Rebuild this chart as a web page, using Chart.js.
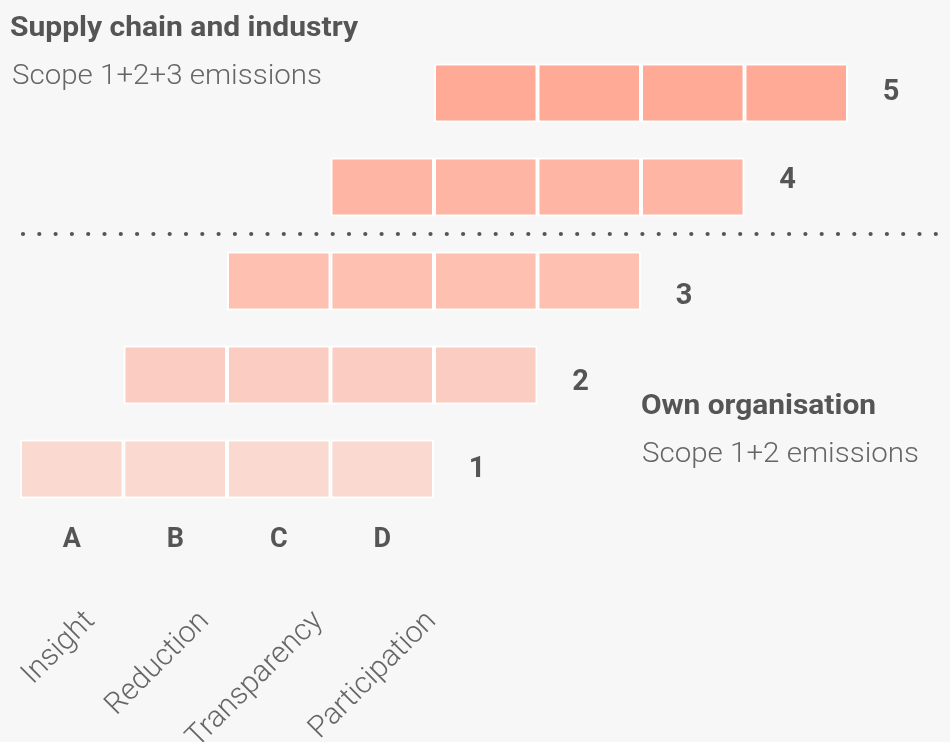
<!DOCTYPE html>
<html>
<head>
<meta charset="utf-8">
<script src="https://cdn.jsdelivr.net/npm/chart.js@4.4.1/dist/chart.umd.min.js"></script>
<style>
  html, body { margin: 0; padding: 0; background: #f7f7f7; }
  #wrap { width: 950px; height: 742px; position: relative; }
</style>
</head>
<body>
<div id="wrap"><canvas id="c"></canvas></div>
<script>
// ---- data ----
const levels = ['5', '4', '3', '2', '1'];               // top to bottom
const colLetters = ['A', 'B', 'C', 'D'];
const colNames = ['Insight', 'Reduction', 'Transparency', 'Participation'];
const segment1 = [[4, 5], [3, 4], [2, 3], [1, 2], [0, 1]];
const segment2 = [[5, 6], [4, 5], [3, 4], [2, 3], [1, 2]];
const segment3 = [[6, 7], [5, 6], [4, 5], [3, 4], [2, 3]];
const segment4 = [[7, 8], [6, 7], [5, 6], [4, 5], [3, 4]];
const levelColors = ['#ffaa96', '#feb5a3', '#fdc0b1', '#fbcdc2', '#f9d9d0'];
const groupTitles = ['Supply chain and industry', 'Own organisation'];
const groupSubtitles = ['Scope 1+2+3 emissions', 'Scope 1+2 emissions'];

const FONT = 'Roboto, "Open Sans", "DejaVu Sans", sans-serif';
const DARK = '#555555';
const LIGHT = '#666666';

function fitText(ctx, text, x, y, width, font, color) {
  ctx.save();
  ctx.font = font;
  ctx.fillStyle = color;
  ctx.textAlign = 'left';
  ctx.textBaseline = 'alphabetic';
  const w = ctx.measureText(text).width;
  const s = width / w;
  ctx.translate(x, y);
  ctx.scale(s, 1);
  ctx.fillText(text, 0, 0);
  ctx.restore();
}

const decor = {
  id: 'decor',
  afterDraw(chart) {
    const ctx = chart.ctx;
    const xs = chart.scales.x;
    const ys = chart.scales.y;

    // dotted separator between level 4 and level 3
    const ySep = (ys.getPixelForValue(1) + ys.getPixelForValue(2)) / 2;
    ctx.save();
    ctx.strokeStyle = DARK;
    ctx.lineWidth = 4.2;
    ctx.lineCap = 'round';
    ctx.setLineDash([0, 16.3]);
    ctx.beginPath();
    ctx.moveTo(23, ySep);
    ctx.lineTo(945, ySep);
    ctx.stroke();
    ctx.restore();

    // level numbers at the end of each bar
    const dy = [0, -6, 16, 8, 1];
    ctx.save();
    ctx.font = 'bold 29px ' + FONT;
    ctx.fillStyle = DARK;
    ctx.textAlign = 'center';
    ctx.textBaseline = 'middle';
    levels.forEach((lv, i) => {
      const xEnd = xs.getPixelForValue(segment4[i][1]);
      ctx.fillText(lv, xEnd + 43, ys.getPixelForValue(i) + dy[i]);
    });
    ctx.restore();

    // rotated column names
    const dx = [24, 35, 45, 55];
    ctx.save();
    ctx.font = '300 30px ' + FONT;
    ctx.fillStyle = LIGHT;
    ctx.textAlign = 'right';
    ctx.textBaseline = 'alphabetic';
    colNames.forEach((name, i) => {
      const cx = xs.getPixelForValue(i + 0.5);
      ctx.save();
      ctx.translate(cx + dx[i], 622);
      ctx.rotate(-Math.PI / 4);
      ctx.fillText(name, 0, 0);
      ctx.restore();
    });
    ctx.restore();

    // group titles
    fitText(ctx, groupTitles[0], 10, 36, 348, 'bold 28px ' + FONT, DARK);
    fitText(ctx, groupSubtitles[0], 12, 84, 310, '300 28px ' + FONT, LIGHT);
    fitText(ctx, groupTitles[1], 641, 414, 235, 'bold 28px ' + FONT, DARK);
    fitText(ctx, groupSubtitles[1], 642, 462, 277, '300 28px ' + FONT, LIGHT);
  }
};

const segs = [segment1, segment2, segment3, segment4];
const chart = new Chart(document.getElementById('c'), {
  type: 'bar',
  data: {
    labels: levels,
    datasets: segs.map((d, k) => ({
      label: colLetters[k],
      data: d,
      backgroundColor: levelColors,
      borderColor: '#ffffff',
      borderWidth: 2,
      borderSkipped: false,
      grouped: false,
      barPercentage: 0.63,
      categoryPercentage: 1
    }))
  },
  options: {
    indexAxis: 'y',
    responsive: true,
    maintainAspectRatio: false,
    animation: false,
    layout: { padding: { left: 20, right: 102, top: 46, bottom: 0 } },
    plugins: { legend: { display: false }, tooltip: { enabled: false } },
    scales: {
      x: {
        type: 'linear',
        min: 0,
        max: 8,
        border: { display: false },
        grid: { display: false, drawTicks: false },
        afterBuildTicks(scale) {
          scale.ticks = colLetters.map((_, i) => ({ value: i + 0.5 }));
        },
        afterFit(scale) { scale.height = 226; },
        ticks: {
          autoSkip: false,
          maxRotation: 0,
          minRotation: 0,
          padding: 8,
          color: DARK,
          font: { family: FONT, size: 27, weight: 'bold' },
          callback: (v) => colLetters[Math.floor(v)]
        }
      },
      y: {
        display: false
      }
    }
  },
  plugins: [decor]
});
</script>
</body>
</html>
